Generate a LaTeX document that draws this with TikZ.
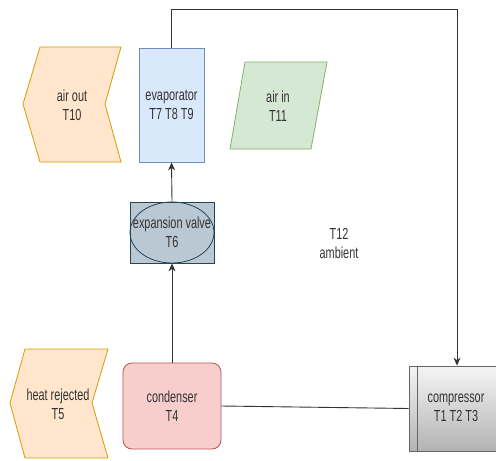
\documentclass[tikz,border=0pt]{standalone}
\usepackage{fontspec}
\setmainfont{Liberation Sans}[FakeStretch=0.68]
\usetikzlibrary{arrows.meta,shapes.geometric}
\definecolor{orfill}{HTML}{FFE6CC}\definecolor{orline}{HTML}{D79B00}
\definecolor{bfill}{HTML}{DAE8FC}\definecolor{bline}{HTML}{6C8EBF}
\definecolor{gfill}{HTML}{D5E8D4}\definecolor{gline}{HTML}{82B366}
\definecolor{rfill}{HTML}{F8CECC}\definecolor{rline}{HTML}{B85450}
\definecolor{vfill}{HTML}{BAC8D3}\definecolor{vline}{HTML}{23445D}
\definecolor{cline}{HTML}{666666}
\definecolor{txt}{HTML}{333333}
\tikzset{
  lbl/.style={align=center,font=\fontsize{16}{19}\selectfont,text=txt,inner sep=0pt},
  conn/.style={draw=black!80,line width=0.9pt},
  arr/.style={conn,-{Stealth[length=8pt,width=7pt]}},
}
\begin{document}
\begin{tikzpicture}[x=1pt,y=-1pt]
\useasboundingbox (0,0) rectangle (496,461);
% air out chevron
\draw[orline,fill=orfill,line width=0.8pt] (40,47) -- (121,47) -- (105,104) -- (121,162) -- (40,162) -- (23,104) -- cycle;
\node[lbl] (airout) at (72,105) {air out\\T10};
% heat rejected chevron
\draw[orline,fill=orfill,line width=0.8pt] (25,349) -- (108,349) -- (92,403) -- (108,458) -- (25,458) -- (10,403) -- cycle;
\node[lbl] (heat) at (58,404) {heat rejected\\T5};
% air in parallelogram
\draw[gline,fill=gfill,line width=0.8pt] (245,62) -- (327,62) -- (311,149) -- (230,149) -- cycle;
\node[lbl] (airin) at (278,106) {air in\\T11};
% evaporator
\node[draw=bline,fill=bfill,line width=0.8pt,minimum width=65pt,minimum height=114pt,inner sep=0pt] (evap) at (171.5,105) {};
\node[lbl] at (evap.center) {evaporator\\T7 T8 T9};
% expansion valve
\node[draw=vline,fill=vfill,line width=0.8pt,minimum width=84pt,minimum height=61pt,inner sep=0pt] (valve) at (172,232.5) {};
\node[draw=vline,ellipse,line width=0.8pt,minimum width=84pt,minimum height=61pt,inner sep=0pt] (valveell) at (valve.center) {};
\node[lbl] at (valve.center) {expansion valve\\T6};
% condenser
\node[draw=rline,fill=rfill,line width=0.8pt,rounded corners=9pt,minimum width=98pt,minimum height=86pt,inner sep=0pt] (cond) at (172,406) {};
\node[lbl] at (cond.center) {condenser\\T4};
% compressor
\node[draw=cline,top color=black!4,bottom color=black!30,line width=0.8pt,minimum width=96pt,minimum height=85pt,inner sep=0pt] (comp) at (457,408.5) {};
\draw[cline,line width=0.8pt] ([xshift=9pt]comp.north west) -- ([xshift=9pt]comp.south west);
\node[lbl] at (456,408) {compressor\\T1 T2 T3};
% ambient
\node[lbl] (amb) at (339,243) {T12\\ambient};
% connectors
\coordinate (c1) at (171,9);
\coordinate (c2) at (457,9);
\draw[arr] (evap.north) -- (evap.north |- c1) -- (c2) -- (comp.north);
\draw[arr] (valve.north) -- (evap.south);
\draw[arr] (cond.north) -- (valve.south);
\draw[conn] (cond.east) -- (comp.west);
\end{tikzpicture}
\end{document}
